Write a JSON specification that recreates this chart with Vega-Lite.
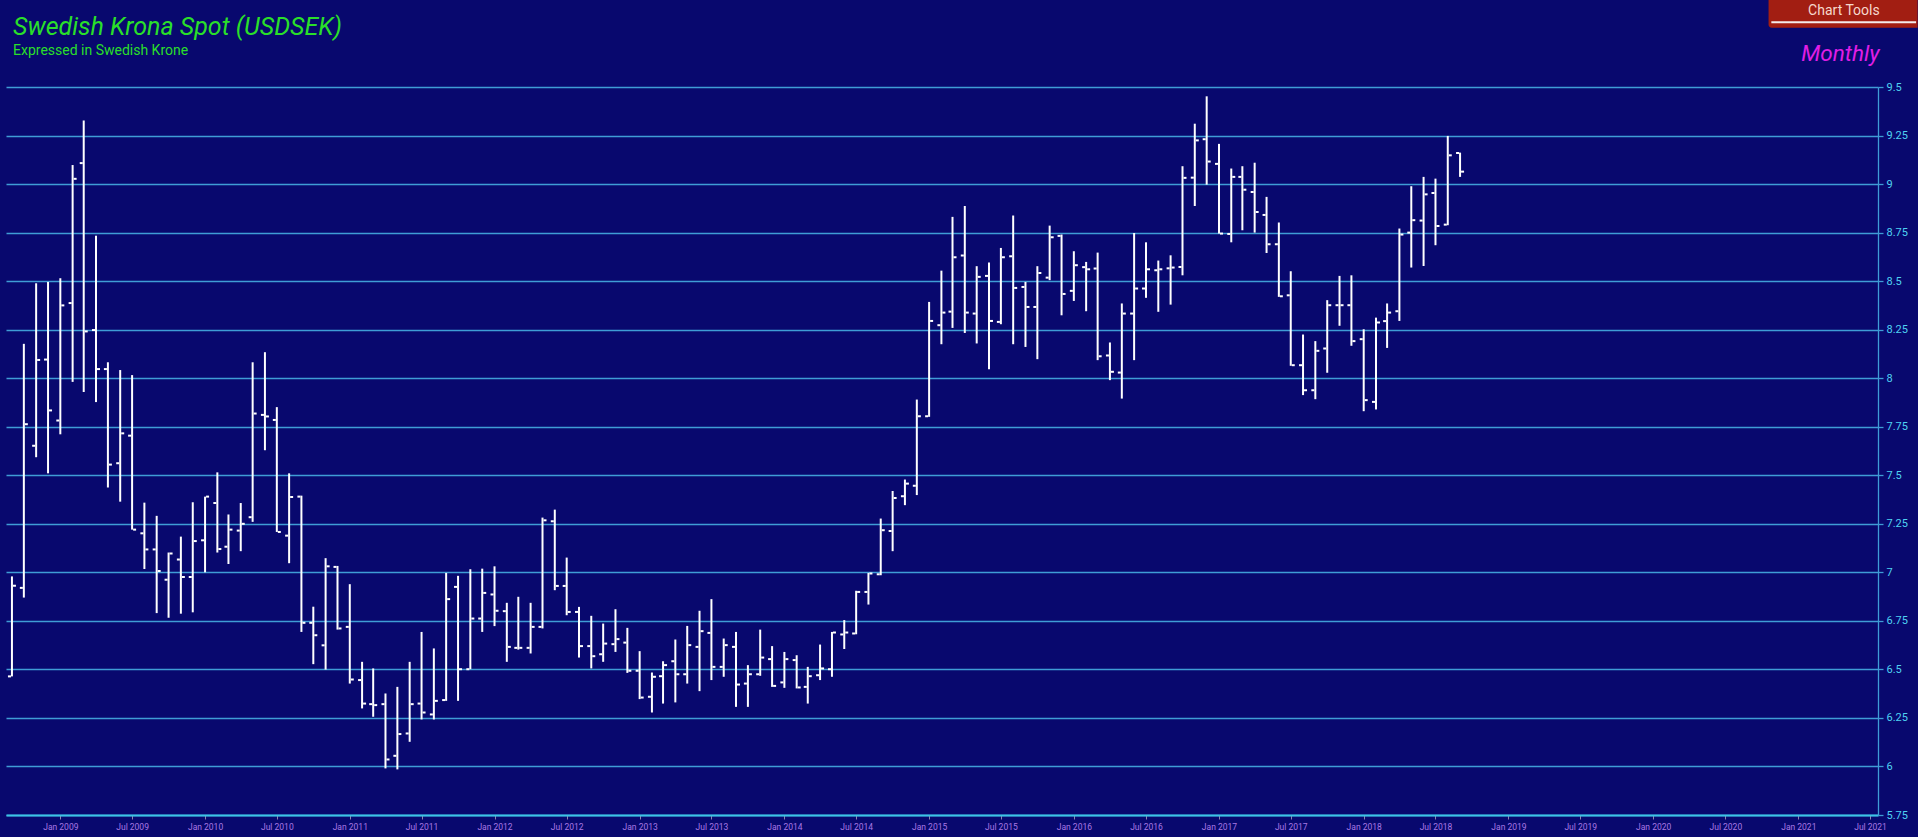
{
  "$schema": "https://vega.github.io/schema/vega-lite/v6.json",
  "width": 1872,
  "height": 728,
  "autosize": {"type": "none"},
  "padding": {"left": 6, "top": 87, "right": 40, "bottom": 22},
  "background": "#08086e",
  "config": {"view": {"stroke": null}},
  "title": {
    "text": "Swedish Krona Spot (USDSEK)",
    "subtitle": "Expressed in Swedish Krone",
    "anchor": "start",
    "frame": "group",
    "font": "Roboto",
    "fontSize": 25,
    "fontStyle": "italic",
    "fontWeight": "normal",
    "color": "#2adf2a",
    "subtitleFont": "Roboto",
    "subtitleFontSize": 14,
    "subtitleColor": "#2adf2a",
    "subtitlePadding": 4,
    "offset": -58,
    "dx": 7
  },
  "datasets": {
    "ohlc": [
      {"d":"2008-09-01","o":6.464,"h":6.979,"l":6.464,"c":6.931},
      {"d":"2008-10-01","o":6.920,"h":8.177,"l":6.870,"c":7.763},
      {"d":"2008-11-01","o":7.652,"h":8.489,"l":7.593,"c":8.094},
      {"d":"2008-12-01","o":8.096,"h":8.496,"l":7.510,"c":7.834},
      {"d":"2009-01-01","o":7.782,"h":8.515,"l":7.711,"c":8.375},
      {"d":"2009-02-01","o":8.387,"h":9.098,"l":7.981,"c":9.027},
      {"d":"2009-03-01","o":9.108,"h":9.327,"l":7.929,"c":8.241},
      {"d":"2009-04-01","o":8.248,"h":8.734,"l":7.877,"c":8.047},
      {"d":"2009-05-01","o":8.047,"h":8.082,"l":7.437,"c":7.555},
      {"d":"2009-06-01","o":7.562,"h":8.042,"l":7.364,"c":7.716},
      {"d":"2009-07-01","o":7.704,"h":8.016,"l":7.220,"c":7.220},
      {"d":"2009-08-01","o":7.201,"h":7.359,"l":7.017,"c":7.118},
      {"d":"2009-09-01","o":7.118,"h":7.291,"l":6.790,"c":7.007},
      {"d":"2009-10-01","o":6.962,"h":7.102,"l":6.766,"c":7.097},
      {"d":"2009-11-01","o":7.066,"h":7.184,"l":6.787,"c":6.976},
      {"d":"2009-12-01","o":6.976,"h":7.361,"l":6.794,"c":7.161},
      {"d":"2010-01-01","o":7.165,"h":7.390,"l":7.000,"c":7.390},
      {"d":"2010-02-01","o":7.357,"h":7.515,"l":7.102,"c":7.120},
      {"d":"2010-03-01","o":7.132,"h":7.298,"l":7.043,"c":7.220},
      {"d":"2010-04-01","o":7.215,"h":7.357,"l":7.109,"c":7.250},
      {"d":"2010-05-01","o":7.284,"h":8.082,"l":7.260,"c":7.818},
      {"d":"2010-06-01","o":7.811,"h":8.134,"l":7.629,"c":7.803},
      {"d":"2010-07-01","o":7.785,"h":7.851,"l":7.208,"c":7.208},
      {"d":"2010-08-01","o":7.189,"h":7.510,"l":7.047,"c":7.388},
      {"d":"2010-09-01","o":7.390,"h":7.395,"l":6.693,"c":6.740},
      {"d":"2010-10-01","o":6.740,"h":6.823,"l":6.527,"c":6.676},
      {"d":"2010-11-01","o":6.624,"h":7.073,"l":6.499,"c":7.031},
      {"d":"2010-12-01","o":7.028,"h":7.033,"l":6.705,"c":6.711},
      {"d":"2011-01-01","o":6.719,"h":6.939,"l":6.427,"c":6.448},
      {"d":"2011-02-01","o":6.445,"h":6.539,"l":6.299,"c":6.324},
      {"d":"2011-03-01","o":6.321,"h":6.505,"l":6.256,"c":6.316},
      {"d":"2011-04-01","o":6.321,"h":6.376,"l":5.990,"c":6.036},
      {"d":"2011-05-01","o":6.055,"h":6.410,"l":5.985,"c":6.167},
      {"d":"2011-06-01","o":6.170,"h":6.539,"l":6.127,"c":6.321},
      {"d":"2011-07-01","o":6.324,"h":6.693,"l":6.242,"c":6.278},
      {"d":"2011-08-01","o":6.268,"h":6.608,"l":6.242,"c":6.338},
      {"d":"2011-09-01","o":6.342,"h":6.997,"l":6.338,"c":6.862},
      {"d":"2011-10-01","o":6.925,"h":6.982,"l":6.338,"c":6.501},
      {"d":"2011-11-01","o":6.501,"h":7.016,"l":6.501,"c":6.762},
      {"d":"2011-12-01","o":6.762,"h":7.019,"l":6.693,"c":6.894},
      {"d":"2012-01-01","o":6.886,"h":7.031,"l":6.723,"c":6.802},
      {"d":"2012-02-01","o":6.800,"h":6.843,"l":6.539,"c":6.616},
      {"d":"2012-03-01","o":6.611,"h":6.874,"l":6.602,"c":6.611},
      {"d":"2012-04-01","o":6.611,"h":6.843,"l":6.582,"c":6.719},
      {"d":"2012-05-01","o":6.719,"h":7.282,"l":6.711,"c":7.268},
      {"d":"2012-06-01","o":7.263,"h":7.323,"l":6.908,"c":6.930},
      {"d":"2012-07-01","o":6.930,"h":7.076,"l":6.779,"c":6.796},
      {"d":"2012-08-01","o":6.796,"h":6.822,"l":6.561,"c":6.620},
      {"d":"2012-09-01","o":6.620,"h":6.776,"l":6.505,"c":6.568},
      {"d":"2012-10-01","o":6.578,"h":6.736,"l":6.539,"c":6.633},
      {"d":"2012-11-01","o":6.630,"h":6.810,"l":6.590,"c":6.656},
      {"d":"2012-12-01","o":6.638,"h":6.714,"l":6.482,"c":6.493},
      {"d":"2013-01-01","o":6.493,"h":6.594,"l":6.347,"c":6.355},
      {"d":"2013-02-01","o":6.359,"h":6.484,"l":6.278,"c":6.462},
      {"d":"2013-03-01","o":6.465,"h":6.542,"l":6.324,"c":6.522},
      {"d":"2013-04-01","o":6.542,"h":6.654,"l":6.330,"c":6.475},
      {"d":"2013-05-01","o":6.475,"h":6.724,"l":6.427,"c":6.625},
      {"d":"2013-06-01","o":6.616,"h":6.802,"l":6.388,"c":6.697},
      {"d":"2013-07-01","o":6.688,"h":6.862,"l":6.445,"c":6.513},
      {"d":"2013-08-01","o":6.513,"h":6.659,"l":6.462,"c":6.625},
      {"d":"2013-09-01","o":6.616,"h":6.693,"l":6.307,"c":6.422},
      {"d":"2013-10-01","o":6.427,"h":6.522,"l":6.307,"c":6.475},
      {"d":"2013-11-01","o":6.475,"h":6.705,"l":6.467,"c":6.561},
      {"d":"2013-12-01","o":6.553,"h":6.620,"l":6.410,"c":6.415},
      {"d":"2014-01-01","o":6.433,"h":6.590,"l":6.405,"c":6.553},
      {"d":"2014-02-01","o":6.548,"h":6.573,"l":6.402,"c":6.407},
      {"d":"2014-03-01","o":6.410,"h":6.513,"l":6.324,"c":6.465},
      {"d":"2014-04-01","o":6.470,"h":6.628,"l":6.445,"c":6.505},
      {"d":"2014-05-01","o":6.501,"h":6.693,"l":6.462,"c":6.690},
      {"d":"2014-06-01","o":6.680,"h":6.754,"l":6.605,"c":6.690},
      {"d":"2014-07-01","o":6.685,"h":6.905,"l":6.681,"c":6.899},
      {"d":"2014-08-01","o":6.899,"h":6.997,"l":6.834,"c":6.994},
      {"d":"2014-09-01","o":6.990,"h":7.277,"l":6.985,"c":7.217},
      {"d":"2014-10-01","o":7.213,"h":7.419,"l":7.109,"c":7.383},
      {"d":"2014-11-01","o":7.392,"h":7.478,"l":7.346,"c":7.457},
      {"d":"2014-12-01","o":7.446,"h":7.890,"l":7.398,"c":7.804},
      {"d":"2015-01-01","o":7.804,"h":8.393,"l":7.801,"c":8.295},
      {"d":"2015-02-01","o":8.273,"h":8.554,"l":8.175,"c":8.338},
      {"d":"2015-03-01","o":8.343,"h":8.831,"l":8.259,"c":8.623},
      {"d":"2015-04-01","o":8.632,"h":8.887,"l":8.233,"c":8.338},
      {"d":"2015-05-01","o":8.333,"h":8.577,"l":8.179,"c":8.522},
      {"d":"2015-06-01","o":8.527,"h":8.596,"l":8.046,"c":8.295},
      {"d":"2015-07-01","o":8.290,"h":8.671,"l":8.278,"c":8.623},
      {"d":"2015-08-01","o":8.628,"h":8.838,"l":8.175,"c":8.465},
      {"d":"2015-09-01","o":8.470,"h":8.496,"l":8.161,"c":8.367},
      {"d":"2015-10-01","o":8.367,"h":8.577,"l":8.098,"c":8.542},
      {"d":"2015-11-01","o":8.518,"h":8.786,"l":8.505,"c":8.726},
      {"d":"2015-12-01","o":8.733,"h":8.740,"l":8.324,"c":8.434},
      {"d":"2016-01-01","o":8.450,"h":8.654,"l":8.398,"c":8.582},
      {"d":"2016-02-01","o":8.572,"h":8.599,"l":8.345,"c":8.561},
      {"d":"2016-03-01","o":8.565,"h":8.647,"l":8.093,"c":8.113},
      {"d":"2016-04-01","o":8.117,"h":8.184,"l":7.990,"c":8.033},
      {"d":"2016-05-01","o":8.029,"h":8.385,"l":7.895,"c":8.333},
      {"d":"2016-06-01","o":8.333,"h":8.748,"l":8.093,"c":8.462},
      {"d":"2016-07-01","o":8.462,"h":8.700,"l":8.414,"c":8.561},
      {"d":"2016-08-01","o":8.556,"h":8.606,"l":8.342,"c":8.561},
      {"d":"2016-09-01","o":8.566,"h":8.633,"l":8.379,"c":8.570},
      {"d":"2016-10-01","o":8.573,"h":9.092,"l":8.530,"c":9.032},
      {"d":"2016-11-01","o":9.033,"h":9.311,"l":8.887,"c":9.225},
      {"d":"2016-12-01","o":9.231,"h":9.452,"l":8.997,"c":9.116},
      {"d":"2017-01-01","o":9.104,"h":9.207,"l":8.745,"c":8.745},
      {"d":"2017-02-01","o":8.743,"h":9.080,"l":8.700,"c":9.037},
      {"d":"2017-03-01","o":9.037,"h":9.092,"l":8.762,"c":8.971},
      {"d":"2017-04-01","o":8.959,"h":9.110,"l":8.750,"c":8.856},
      {"d":"2017-05-01","o":8.841,"h":8.934,"l":8.645,"c":8.690},
      {"d":"2017-06-01","o":8.690,"h":8.802,"l":8.419,"c":8.422},
      {"d":"2017-07-01","o":8.427,"h":8.551,"l":8.064,"c":8.067},
      {"d":"2017-08-01","o":8.067,"h":8.225,"l":7.913,"c":7.938},
      {"d":"2017-09-01","o":7.938,"h":8.191,"l":7.892,"c":8.141},
      {"d":"2017-10-01","o":8.153,"h":8.402,"l":8.028,"c":8.376},
      {"d":"2017-11-01","o":8.376,"h":8.527,"l":8.270,"c":8.376},
      {"d":"2017-12-01","o":8.376,"h":8.530,"l":8.167,"c":8.191},
      {"d":"2018-01-01","o":8.201,"h":8.252,"l":7.830,"c":7.887},
      {"d":"2018-02-01","o":7.878,"h":8.312,"l":7.839,"c":8.287},
      {"d":"2018-03-01","o":8.294,"h":8.385,"l":8.156,"c":8.338},
      {"d":"2018-04-01","o":8.345,"h":8.771,"l":8.295,"c":8.740},
      {"d":"2018-05-01","o":8.750,"h":8.989,"l":8.570,"c":8.814},
      {"d":"2018-06-01","o":8.812,"h":9.037,"l":8.578,"c":8.947},
      {"d":"2018-07-01","o":8.954,"h":9.028,"l":8.685,"c":8.784},
      {"d":"2018-08-01","o":8.791,"h":9.248,"l":8.788,"c":9.148},
      {"d":"2018-09-01","o":9.160,"h":9.162,"l":9.037,"c":9.064}
    ],
    "notes": [{"label": "Monthly"}],
    "button": [{"label": "Chart Tools"}]
  },
  "layer": [
    {
      "data": {"name": "ohlc"},
      "mark": {"type": "rule", "color": "#ffffff", "strokeWidth": 2},
      "encoding": {
        "x": {
          "field": "d",
          "type": "temporal",
          "scale": {
            "type": "utc",
            "domain": [
              {"year": 2008, "month": 8, "date": 17, "utc": true},
              {"year": 2021, "month": 7, "date": 21, "utc": true}
            ]
          },
          "axis": {
            "orient": "bottom",
            "title": null,
            "format": "%b %Y",
            "values": [
              {"year": 2009, "month": 1, "date": 1, "utc": true},
              {"year": 2009, "month": 7, "date": 1, "utc": true},
              {"year": 2010, "month": 1, "date": 1, "utc": true},
              {"year": 2010, "month": 7, "date": 1, "utc": true},
              {"year": 2011, "month": 1, "date": 1, "utc": true},
              {"year": 2011, "month": 7, "date": 1, "utc": true},
              {"year": 2012, "month": 1, "date": 1, "utc": true},
              {"year": 2012, "month": 7, "date": 1, "utc": true},
              {"year": 2013, "month": 1, "date": 1, "utc": true},
              {"year": 2013, "month": 7, "date": 1, "utc": true},
              {"year": 2014, "month": 1, "date": 1, "utc": true},
              {"year": 2014, "month": 7, "date": 1, "utc": true},
              {"year": 2015, "month": 1, "date": 1, "utc": true},
              {"year": 2015, "month": 7, "date": 1, "utc": true},
              {"year": 2016, "month": 1, "date": 1, "utc": true},
              {"year": 2016, "month": 7, "date": 1, "utc": true},
              {"year": 2017, "month": 1, "date": 1, "utc": true},
              {"year": 2017, "month": 7, "date": 1, "utc": true},
              {"year": 2018, "month": 1, "date": 1, "utc": true},
              {"year": 2018, "month": 7, "date": 1, "utc": true},
              {"year": 2019, "month": 1, "date": 1, "utc": true},
              {"year": 2019, "month": 7, "date": 1, "utc": true},
              {"year": 2020, "month": 1, "date": 1, "utc": true},
              {"year": 2020, "month": 7, "date": 1, "utc": true},
              {"year": 2021, "month": 1, "date": 1, "utc": true},
              {"year": 2021, "month": 7, "date": 1, "utc": true}
            ],
            "grid": false,
            "domainColor": "#3cc4e6",
            "domainWidth": 2,
            "tickColor": "#8a86b0",
            "tickSize": 4,
            "tickWidth": 1,
            "labelColor": "#a878e4",
            "labelFont": "Roboto",
            "labelFontSize": 8.5,
            "labelPadding": 3,
            "labelOverlap": false,
            "labelFlush": false
          }
        },
        "y": {
          "field": "l",
          "type": "quantitative",
          "scale": {"domain": [5.75, 9.5], "nice": false, "zero": false},
          "axis": {
            "orient": "right",
            "title": null,
            "values": [5.75, 6, 6.25, 6.5, 6.75, 7, 7.25, 7.5, 7.75, 8, 8.25, 8.5, 8.75, 9, 9.25, 9.5],
            "format": ".2~f",
            "grid": true,
            "gridColor": "#3f9cd6",
            "gridWidth": 1.3,
            "gridOpacity": 1,
            "domainColor": "#3f9cd6",
            "domainWidth": 1.3,
            "tickColor": "#3f9cd6",
            "tickSize": 5,
            "tickWidth": 1.3,
            "labelColor": "#4fd2f2",
            "labelFont": "Roboto",
            "labelFontSize": 11,
            "labelPadding": 3,
            "labelOverlap": false,
            "labelFlush": false
          }
        },
        "y2": {"field": "h"}
      }
    },
    {
      "data": {"name": "ohlc"},
      "mark": {"type": "tick", "orient": "horizontal", "color": "#ffffff", "size": 3, "thickness": 2, "xOffset": -2.5, "opacity": 1},
      "encoding": {
        "x": {"field": "d", "type": "temporal"},
        "y": {"field": "o", "type": "quantitative"}
      }
    },
    {
      "data": {"name": "ohlc"},
      "mark": {"type": "tick", "orient": "horizontal", "color": "#ffffff", "size": 3, "thickness": 2, "xOffset": 2.5, "opacity": 1},
      "encoding": {
        "x": {"field": "d", "type": "temporal"},
        "y": {"field": "c", "type": "quantitative"}
      }
    },
    {
      "data": {"name": "notes"},
      "mark": {"type": "text", "align": "right", "baseline": "alphabetic", "font": "Roboto", "fontSize": 22.5, "fontStyle": "italic", "color": "#e01ee6"},
      "encoding": {
        "x": {"datum": {"year": 2021, "month": 7, "date": 25, "utc": true}, "type": "temporal"},
        "y": {"datum": 9.632, "type": "quantitative"},
        "text": {"field": "label"}
      }
    },
    {
      "data": {"name": "button"},
      "mark": {"type": "rect", "color": "#a21e12", "cornerRadiusBottomLeft": 3},
      "encoding": {
        "x": {"datum": {"year": 2020, "month": 10, "date": 18, "utc": true}, "type": "temporal"},
        "x2": {"datum": {"year": 2021, "month": 10, "date": 29, "utc": true}},
        "y": {"datum": 9.95, "type": "quantitative"},
        "y2": {"datum": 9.805}
      }
    },
    {
      "data": {"name": "button"},
      "mark": {"type": "rule", "color": "#f4ecec", "strokeWidth": 2},
      "encoding": {
        "x": {"datum": {"year": 2020, "month": 10, "date": 25, "utc": true}, "type": "temporal"},
        "x2": {"datum": {"year": 2021, "month": 10, "date": 25, "utc": true}},
        "y": {"datum": 9.833, "type": "quantitative"}
      }
    },
    {
      "data": {"name": "button"},
      "mark": {"type": "text", "align": "center", "baseline": "alphabetic", "font": "Roboto", "fontSize": 14, "color": "#f6d8cc"},
      "encoding": {
        "x": {"datum": {"year": 2021, "month": 4, "date": 26, "utc": true}, "type": "temporal"},
        "y": {"datum": 9.869, "type": "quantitative"},
        "text": {"field": "label"}
      }
    }
  ]
}
